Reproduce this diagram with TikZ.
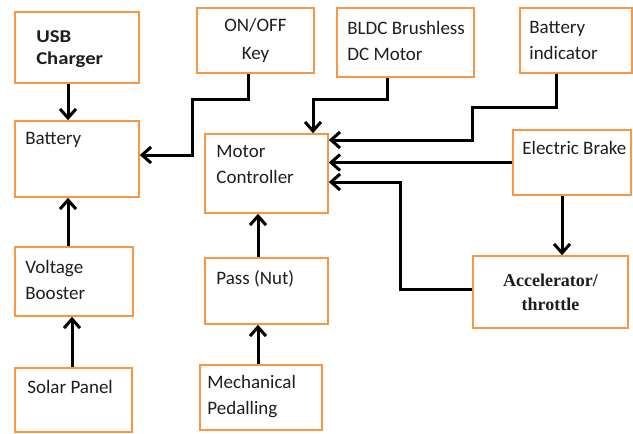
\documentclass[tikz,border=0pt]{standalone}
\usepackage{fontspec}
\setmainfont{Carlito}
\newfontfamily\accfont{Liberation Serif}
\usetikzlibrary{arrows.meta}
\definecolor{boxorange}{HTML}{F79646}
\definecolor{inkgray}{HTML}{1E1E1E}
\tikzset{
  blk/.style={rectangle,draw=boxorange,line width=1.6pt,fill=white,inner sep=0pt},
  txt/.style={anchor=north west,inner sep=0pt,align=left,text=inkgray,
              font=\fontsize{19}{26}\selectfont},
  conn/.style={-{Straight Barb[length=9pt,width=16pt]},line width=3pt,draw=black},
}
\begin{document}
\begin{tikzpicture}[x=1pt,y=-1pt]
  \useasboundingbox (0,0) rectangle (633,434);
  % boxes
  \node[blk,minimum width=124,minimum height=71] (usb) at (77,47.5) {};
  \node[blk,minimum width=117,minimum height=65,align=center,text=inkgray,
        font=\fontsize{19}{28}\selectfont] (key) at (255.5,40.5) {ON/OFF\\Key};
  \node[blk,minimum width=137,minimum height=69] (bldc) at (405.5,42.5) {};
  \node[blk,minimum width=112,minimum height=65] (ind) at (576,40.5) {};
  \node[blk,minimum width=124,minimum height=76] (bat) at (77,159) {};
  \node[blk,minimum width=123,minimum height=79] (mc) at (266.5,173.5) {};
  \node[blk,minimum width=118,minimum height=65] (brk) at (572,162.5) {};
  \node[blk,minimum width=155,minimum height=72,align=center,text=inkgray,
        font=\accfont\bfseries\fontsize{18}{24}\selectfont] (acc) at (550.5,292) {Accelerator/\\throttle};
  \node[blk,minimum width=118,minimum height=69] (vb) at (74,281.5) {};
  \node[blk,minimum width=123,minimum height=66] (pass) at (266.5,291) {};
  \node[blk,minimum width=117,minimum height=64] (sol) at (73.5,400) {};
  \node[blk,minimum width=122,minimum height=65] (ped) at (261,397.5) {};
  % texts
  \node[txt,font=\bfseries\fontsize{18}{22}\selectfont,xscale=1.15,transform shape,
        xshift=19pt,yshift=-19pt] (usbtxt) at (usb.north west) {USB\\Charger};
  \node[txt,xshift=11pt,yshift=-12pt] (battxt) at (bat.north west) {Battery};
  \node[txt,xshift=11pt,yshift=-14pt] (bldctxt) at (bldc.north west) {BLDC Brushless\\DC Motor};
  \node[txt,xshift=10pt,yshift=-14pt] (indtxt) at (ind.north west) {Battery\\indicator};
  \node[txt,xshift=12pt,yshift=-12pt] (mctxt) at (mc.north west) {Motor\\Controller};
  \node[txt,xshift=10pt,yshift=-12pt] (brktxt) at (brk.north west) {Electric Brake};
  \node[txt,xshift=11pt,yshift=-14pt] (vbtxt) at (vb.north west) {Voltage\\Booster};
  \node[txt,xshift=12pt,yshift=-13pt] (passtxt) at (pass.north west) {Pass (Nut)};
  \node[txt,xshift=13pt,yshift=-13pt] (soltxt) at (sol.north west) {Solar Panel};
  \node[txt,xshift=8pt,yshift=-11pt] (pedtxt) at (ped.north west) {Mechanical\\Pedalling};
  % connectors
  \draw[conn] ([xshift=-9pt]usb.south) -- ([xshift=-9pt]bat.north);
  \draw[conn] ([xshift=-7.5pt]key.south) |- (192,99) |- ([yshift=4pt]bat.east);
  \draw[conn] ([xshift=-18.5pt]bldc.south) |- (313,99) -- ([xshift=46.5pt]mc.north);
  \draw[conn] ([xshift=-20pt]ind.south) |- (472,107) |- ([yshift=33.5pt]mc.east);
  \draw[conn] (brk.west) -- (brk.west -| mc.east);
  \draw[conn] ([yshift=3pt]acc.west) -| (400,182) -- ([yshift=-8.5pt]mc.east);
  \draw[conn] ([xshift=-10pt]brk.south) -- ([xshift=-10pt]brk.south |- acc.north);
  \draw[conn] ([xshift=-6pt]vb.north) -- ([xshift=-6pt]vb.north |- bat.south);
  \draw[conn] ([xshift=-1.5pt]sol.north) -- ([xshift=-1.5pt]sol.north |- vb.south);
  \draw[conn] ([xshift=-8.5pt]pass.north) -- ([xshift=-8.5pt]pass.north |- mc.south);
  \draw[conn] ([xshift=-3pt]ped.north) -- ([xshift=-3pt]ped.north |- pass.south);
\end{tikzpicture}
\end{document}
